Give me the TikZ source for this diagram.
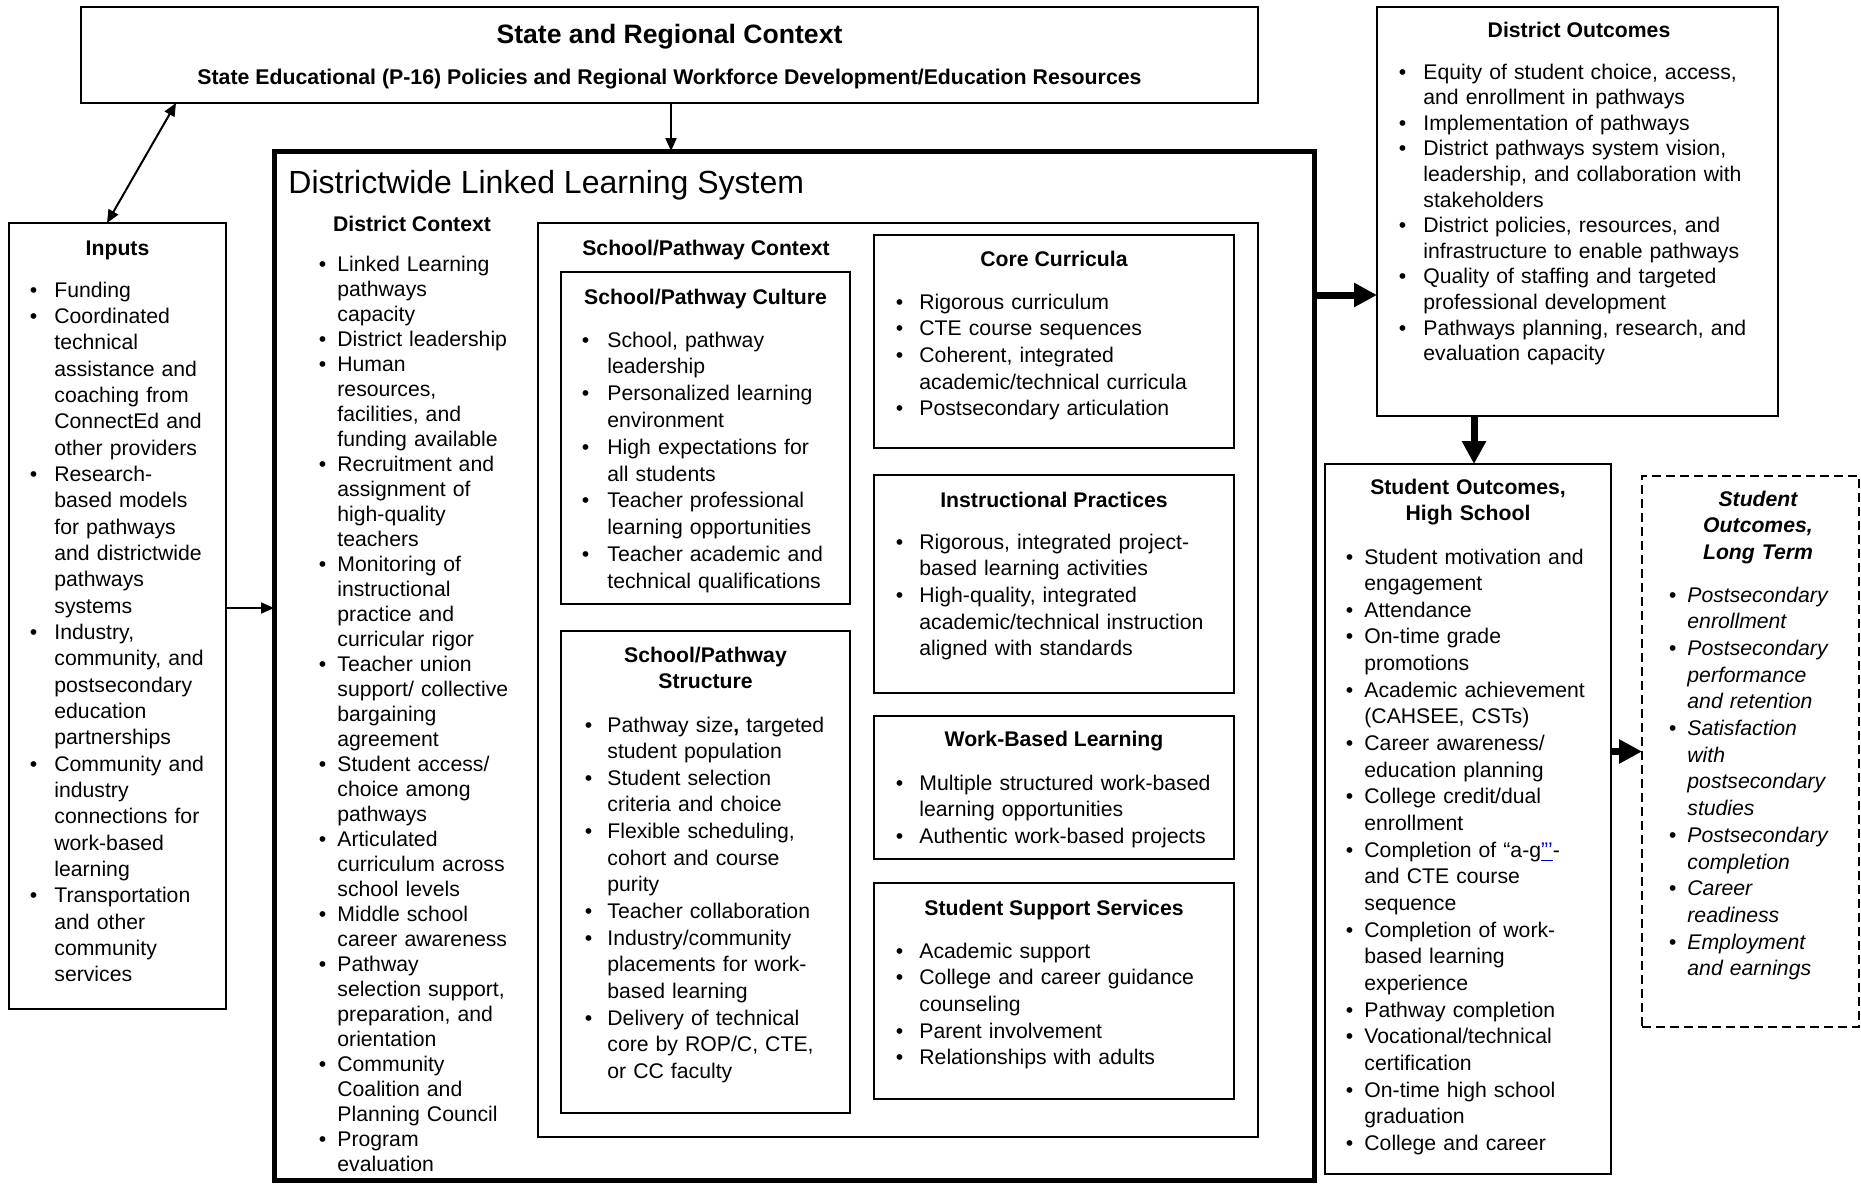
\documentclass[tikz,border=0pt]{standalone}
\usepackage{fontspec}
\setmainfont{Liberation Sans}
\usepackage{tikz}
\usetikzlibrary{arrows.meta}
\definecolor{linkblue}{rgb}{0.0,0.0,0.85}
\newlength{\bulletgap}
\newcommand{\bl}{\leavevmode\llap{\textbullet\hspace{\bulletgap}}}
\newcommand{\bodyfont}[1]{\fontsize{10.6pt}{#1}\selectfont}

\begin{document}
\begin{tikzpicture}[x=0.5pt,y=-0.5pt,>={Triangle[length=6.5pt,width=5.5pt]},
  box/.style={draw,line width=0.8pt,inner sep=0pt,outer sep=0pt,anchor=north west},
  ltbox/.style={dash pattern=on 4.5pt off 2.5pt},
  head/.style={anchor=base,inner sep=0pt,font=\bfseries\bodyfont{13.35pt}},
  blist/.style 2 args={anchor=base west,inner sep=0pt,align=left,text width=#1,font=\bodyfont{#2}},
  bgap/.code={\setlength{\bulletgap}{#1}},
  thinarr/.style={line width=1pt},
  thickarr/.style={line width=3.5pt,-{Triangle[length=11.5pt,width=11.5pt]}}]
\useasboundingbox (0,0) rectangle (1861,1183);

\node[box,minimum width=588.5pt,minimum height=48pt] (state) at (81,7) {};
\node[anchor=base,inner sep=0pt,font=\bfseries\fontsize{13.3pt}{15pt}\selectfont] (statetitle) at (669.5,43) {State and Regional Context};
\node[anchor=base,inner sep=0pt,font=\bfseries\fontsize{10.65pt}{12pt}\selectfont] (statesub) at (669.5,84) {State Educational (P-16) Policies and Regional Workforce Development/Education Resources};

\node[box,minimum width=108.5pt,minimum height=393pt] (inputs) at (9,223) {};
\node[head] (inputshead) at (117.5,255) {Inputs};
\node[blist={100pt}{13.17pt},bgap=8.6pt] (inputslist) at (54,297) {\bl Funding\\
  \bl Coordinated\\ technical\\ assistance and\\ coaching from\\ ConnectEd and\\ other providers\\
  \bl Research-\\ based models\\ for pathways\\ and districtwide\\ pathways\\ systems\\
  \bl Industry,\\ community, and\\ postsecondary\\ education\\ partnerships\\
  \bl Community and\\ industry\\ connections for\\ work-based\\ learning\\
  \bl Transportation\\ and other\\ community\\ services};

\node[box,line width=2.5pt,minimum width=520pt,minimum height=514.5pt] (dist) at (274,151) {};
\node[anchor=base west,inner sep=0pt,font=\fontsize{16pt}{19pt}\selectfont] (disttitle) at (288,193) {Districtwide Linked Learning System};

\node[head] (dchead) at (412,231) {District Context};
\node[blist={110pt}{12.5pt},bgap=5.6pt] (dclist) at (337,271) {\bl Linked Learning\\ pathways\\ capacity\\
  \bl District leadership\\
  \bl Human\\ resources,\\ facilities, and\\ funding available\\
  \bl Recruitment and\\ assignment of\\ high-quality\\ teachers\\
  \bl Monitoring of\\ instructional\\ practice and\\ curricular rigor\\
  \bl Teacher union\\ support/ collective\\ bargaining\\ agreement\\
  \bl Student access/\\ choice among\\ pathways\\
  \bl Articulated\\ curriculum across\\ school levels\\
  \bl Middle school\\ career awareness\\
  \bl Pathway\\ selection support,\\ preparation, and\\ orientation\\
  \bl Community\\ Coalition and\\ Planning Council\\
  \bl Program\\ evaluation};

\node[box,minimum width=360pt,minimum height=457pt] (spctx) at (538,223) {};
\node[head] (spctxhead) at (706,255) {School/Pathway Context};

\node[box,minimum width=144.5pt,minimum height=166pt] (culture) at (561,272) {};
\node[head] (culturehead) at (705.5,304) {School/Pathway Culture};
\node[blist={135pt}{13.4pt},bgap=9.1pt] (culturelist) at (607,347) {\bl School, pathway\\ leadership\\
  \bl Personalized learning\\ environment\\
  \bl High expectations for\\ all students\\
  \bl Teacher professional\\ learning opportunities\\
  \bl Teacher academic and\\ technical qualifications};

\node[box,minimum width=144.5pt,minimum height=241pt] (structure) at (561,631) {};
\node[head,text width=130pt,align=center] (structurehead) at (705.5,662) {School/Pathway\\ Structure};
\node[blist={135pt}{13.33pt},bgap=7.6pt] (structurelist) at (607,732) {\bl Pathway size{\bfseries ,} targeted\\ student population\\
  \bl Student selection\\ criteria and choice\\
  \bl Flexible scheduling,\\ cohort and course\\ purity\\
  \bl Teacher collaboration\\
  \bl Industry/community\\ placements for work-\\ based learning\\
  \bl Delivery of technical\\ core by ROP/C, CTE,\\ or CC faculty};

\node[box,minimum width=180pt,minimum height=106.5pt] (core) at (874,235) {};
\node[head] (corehead) at (1054,266) {Core Curricula};
\node[blist={170pt}{13.35pt},bgap=8.1pt] (corelist) at (919,309) {\bl Rigorous curriculum\\
  \bl CTE course sequences\\
  \bl Coherent, integrated\\ academic/technical curricula\\
  \bl Postsecondary articulation};

\node[box,minimum width=180pt,minimum height=109pt] (instr) at (874,475) {};
\node[head] (instrhead) at (1054,507) {Instructional Practices};
\node[blist={170pt}{13.35pt},bgap=8.1pt] (instrlist) at (919,549) {\bl Rigorous, integrated project-\\ based learning activities\\
  \bl High-quality, integrated\\ academic/technical instruction\\ aligned with standards};

\node[box,minimum width=180pt,minimum height=71.5pt] (wbl) at (874,716) {};
\node[head] (wblhead) at (1054,746) {Work-Based Learning};
\node[blist={170pt}{13.35pt},bgap=8.1pt] (wbllist) at (919,790) {\bl Multiple structured work-based\\ learning opportunities\\
  \bl Authentic work-based projects};

\node[box,minimum width=180pt,minimum height=108pt] (sss) at (874,883) {};
\node[head] (ssshead) at (1054,915) {Student Support Services};
\node[blist={170pt}{13.35pt},bgap=8.1pt] (ssslist) at (919,958) {\bl Academic support\\
  \bl College and career guidance\\ counseling\\
  \bl Parent involvement\\
  \bl Relationships with adults};

\node[box,minimum width=200.5pt,minimum height=204.5pt] (dout) at (1377,7) {};
\node[head] (douthead) at (1579,37) {District Outcomes};
\node[blist={190pt}{12.8pt},bgap=8.6pt] (doutlist) at (1423,79) {\bl Equity of student choice, access,\\ and enrollment in pathways\\
  \bl Implementation of pathways\\
  \bl District pathways system vision,\\ leadership, and collaboration with\\ stakeholders\\
  \bl District policies, resources, and\\ infrastructure to enable pathways\\
  \bl Quality of staffing and targeted\\ professional development\\
  \bl Pathways planning, research, and\\ evaluation capacity};

\node[box,minimum width=143pt,minimum height=355pt] (hs) at (1325,464) {};
\node[head,text width=135pt,align=center] (hshead) at (1468,494) {Student Outcomes,\\ High School};
\node[blist={135pt}{13.33pt},bgap=5.6pt] (hslist) at (1364,564) {\bl Student motivation and\\ engagement\\
  \bl Attendance\\
  \bl On-time grade\\ promotions\\
  \bl Academic achievement\\ (CAHSEE, CSTs)\\
  \bl Career awareness/\\ education planning\\
  \bl College credit/dual\\ enrollment\\
  \bl Completion of “a-g\textcolor{linkblue}{\underline{”’}}-\\ and CTE course\\ sequence\\
  \bl Completion of work-\\ based learning\\ experience\\
  \bl Pathway completion\\
  \bl Vocational/technical\\ certification\\
  \bl On-time high school\\ graduation\\
  \bl College and career};

\node[box,ltbox,minimum width=108.5pt,minimum height=275.5pt] (lt) at (1642,476) {};
\node[head,text width=105pt,align=center,font=\bfseries\itshape\bodyfont{13.35pt}] (lthead) at (1758,506) {Student\\ Outcomes,\\ Long Term};
\node[blist={100pt}{13.35pt},bgap=5.6pt,font=\itshape\bodyfont{13.35pt}] (ltlist) at (1687,602) {\bl Postsecondary\\ enrollment\\
  \bl Postsecondary\\ performance\\ and retention\\
  \bl Satisfaction\\ with\\ postsecondary\\ studies\\
  \bl Postsecondary\\ completion\\
  \bl Career\\ readiness\\
  \bl Employment\\ and earnings};

\draw[thinarr,<->] ([xshift=47.5pt]state.south west) -- ([xshift=49pt]inputs.north west);
\draw[thinarr,->] ([xshift=295pt]state.south west) -- ([xshift=198.5pt]dist.north west);
\coordinate (inarr) at ([yshift=4pt]inputs.east);
\draw[thinarr,->] (inarr) -- (inarr -| dist.west);
\coordinate (outy) at (0,295);
\draw[thickarr] (dist.east |- outy) -- (dout.west |- outy);
\coordinate (downx) at ([xshift=3pt]hs.north);
\draw[thickarr] (dout.south -| downx) -- (downx);
\draw[thickarr] (hs.east |- lt.west) -- (lt.west);
\end{tikzpicture}
\end{document}
